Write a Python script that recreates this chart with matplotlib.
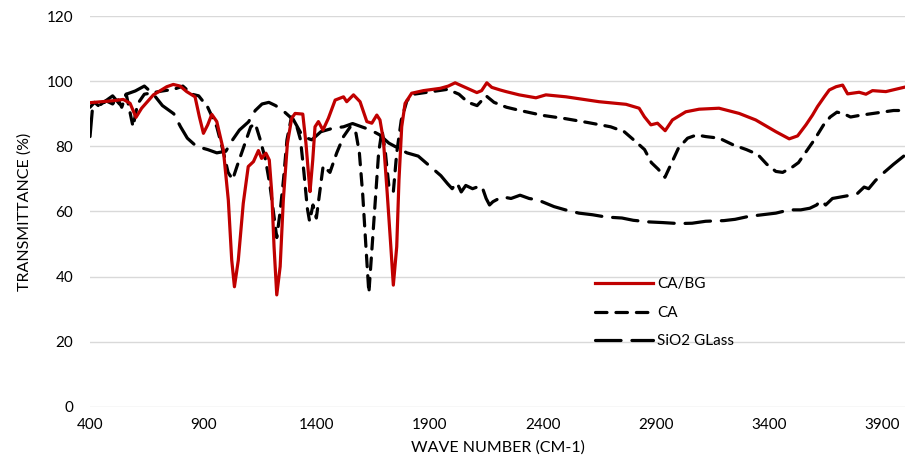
"""FTIR transmittance spectra: CA/BG vs CA vs SiO2 glass"""
import matplotlib
matplotlib.use('Agg')
import matplotlib.pyplot as plt

plt.rcParams['font.family'] = ['Lato', 'DejaVu Sans']

# CA/BG (solid red)
WN_CABG = [400, 502, 547, 577, 603, 628, 680, 739, 768, 798, 827, 864, 883, 901, 920, 938, 960,
           989, 1011, 1026, 1038, 1055, 1077, 1099, 1122, 1144, 1158, 1177, 1192, 1203, 1213, 1225,
           1240, 1254, 1272, 1291, 1306, 1340, 1354, 1365, 1372, 1384, 1394, 1409, 1429, 1453, 1483,
           1520, 1534, 1564, 1593, 1623, 1645, 1667, 1681, 1696, 1713, 1729, 1740, 1755, 1765, 1777,
           1792, 1821, 1873, 1947, 1983, 2013, 2035, 2109, 2130, 2153, 2175, 2212, 2238, 2296, 2370,
           2414, 2503, 2649, 2768, 2826, 2849, 2878, 2907, 2941, 2973, 3032, 3091, 3179, 3268, 3341,
           3430, 3489, 3526, 3563, 3592, 3614, 3644, 3666, 3696, 3725, 3747, 3798, 3828, 3857, 3916, 3995]
T_CABG = [93.4, 94.0, 94.4, 93.2, 88.9, 91.7, 95.8, 98.3, 99.0, 98.5, 96.8, 95.2, 89.1, 84.0, 86.6, 89.8, 87.6,
          78.9, 63.5, 45.1, 36.9, 45.0, 62.5, 73.8, 75.3, 78.7, 76.3, 77.9, 75.8, 65.6, 49.2, 34.4,
          43.1, 63.5, 80.9, 88.6, 90.1, 89.9, 80.9, 71.7, 66.1, 75.8, 86.0, 87.6, 85.0, 88.6, 94.2,
          95.2, 93.7, 95.8, 93.7, 87.6, 87.1, 89.6, 88.1, 82.0, 65.6, 49.2, 37.4, 49.2, 69.7, 86.0,
          93.2, 96.3, 97.1, 97.8, 98.5, 99.5, 98.8, 96.5, 97.1, 99.5, 98.1, 97.3, 96.8, 95.8, 94.9,
          95.8, 95.2, 93.7, 92.9, 91.7, 89.1, 86.6, 87.1, 84.8, 88.1, 90.6, 91.4, 91.7, 90.1, 88.1,
          84.5, 82.3, 83.2, 86.6, 89.6, 92.2, 95.2, 97.3, 98.3, 98.8, 96.1, 96.6, 96.0, 97.1, 96.8, 98.1]

# CA (short dash)
WN_CA = [400, 420, 445, 470, 500, 520, 540, 560, 590, 610, 640, 680, 720, 770, 810, 850, 880, 920,
         960, 990, 1010, 1030, 1050, 1080, 1110, 1130, 1150, 1175, 1195, 1210, 1225, 1240, 1255, 1270,
         1290, 1310, 1330, 1345, 1360, 1370, 1385, 1400, 1415, 1430, 1460, 1490, 1520, 1550, 1575,
         1590, 1605, 1620, 1632, 1645, 1660, 1675, 1690, 1705, 1720, 1740, 1755, 1775, 1800, 1830,
         1880, 1930, 1980, 2030, 2070, 2110, 2150, 2185, 2240, 2300, 2400, 2500, 2600, 2700, 2760,
         2810, 2850, 2880, 2910, 2940, 2970, 3000, 3040, 3080, 3120, 3180, 3240, 3300, 3350, 3390,
         3430, 3460, 3500, 3530, 3560, 3600, 3640, 3670, 3700, 3730, 3760, 3800, 3850, 3900, 3950, 3995]
T_CA = [92.0, 93.5, 92.0, 94.0, 93.0, 95.0, 92.0, 96.0, 86.0, 93.0, 96.0, 96.5, 97.0, 97.5, 98.5, 96.0, 95.5, 92.0,
        86.0, 78.0, 72.0, 69.8, 74.0, 80.0, 86.0, 87.0, 82.5, 76.0, 68.0, 60.0, 52.0, 60.0, 70.0, 82.0,
        89.0, 87.0, 82.0, 72.0, 61.0, 57.0, 62.0, 58.0, 66.0, 74.0, 72.0, 78.0, 83.0, 86.0, 84.0,
        78.0, 65.0, 48.0, 35.0, 48.0, 63.0, 78.0, 85.0, 78.0, 68.0, 66.0, 78.0, 88.0, 94.0, 96.0,
        96.5, 97.0, 97.5, 96.0, 93.5, 92.5, 95.5, 93.5, 92.0, 91.0, 89.5, 88.5, 87.3, 86.0, 84.5,
        81.5, 79.0, 75.0, 73.0, 70.5, 75.0, 79.5, 82.5, 83.5, 83.0, 82.5, 80.5, 79.0, 77.5, 74.5,
        72.3, 72.0, 73.5, 75.0, 78.0, 82.0, 86.5, 89.0, 90.5, 90.0, 89.0, 89.5, 90.0, 90.5, 91.0, 91.0]

# SiO2 glass (long dash)
WN_SIO2 = [400, 410, 440, 470, 500, 530, 560, 600, 640, 680, 720, 770, 800, 830, 870, 920, 960, 1000,
           1030, 1060, 1100, 1130, 1160, 1190, 1220, 1260, 1300, 1340, 1380, 1420, 1470, 1520, 1560,
           1600, 1640, 1680, 1720, 1760, 1800, 1850, 1900, 1950, 1980, 2000, 2020, 2040, 2060, 2090,
           2130, 2150, 2165, 2180, 2220, 2260, 2300, 2340, 2380, 2450, 2500, 2560, 2620, 2680, 2750,
           2800, 2870, 2930, 3000, 3060, 3120, 3200, 3250, 3310, 3370, 3430, 3490, 3540, 3580, 3610,
           3630, 3650, 3680, 3720, 3760, 3790, 3820, 3840, 3870, 3900, 3950, 3995]
T_SIO2 = [83.0, 91.0, 92.5, 94.0, 95.5, 93.0, 96.0, 97.0, 98.5, 96.0, 92.5, 90.0, 86.0, 82.5, 80.0, 79.0, 78.0, 78.5,
          82.0, 85.0, 87.5, 91.0, 93.0, 93.5, 92.5, 90.5, 88.0, 83.0, 82.0, 84.5, 85.5, 86.0, 87.0,
          86.0, 85.0, 83.5, 81.0, 79.5, 78.0, 77.0, 74.0, 71.0, 68.5, 67.0, 69.0, 66.0, 68.0, 67.0,
          68.0, 64.0, 62.0, 63.0, 64.5, 64.0, 65.0, 64.0, 63.5, 61.5, 60.5, 59.5, 59.0, 58.3, 58.0,
          57.3, 56.8, 56.6, 56.3, 56.4, 57.0, 57.2, 57.6, 58.5, 59.0, 59.5, 60.5, 60.5, 61.0, 62.0,
          63.5, 62.0, 64.0, 64.5, 65.0, 65.5, 67.5, 67.0, 69.5, 71.5, 74.5, 77.0]

X_TICKS = list(range(400, 4000, 500))
Y_TICKS = list(range(0, 121, 20))

FIG = plt.figure(figsize=(9.13, 4.74), dpi=100)
AX = FIG.add_axes([0.0986, 0.1414, 0.8925, 0.8248])

AX.plot(WN_CABG, T_CABG, color='#C00000', lw=2.3, label='CA/BG', zorder=3)
AX.plot(WN_CA, T_CA, color='black', lw=2.3, dashes=(3.6, 2.8), dash_capstyle='round', label='CA', zorder=2)
AX.plot(WN_SIO2, T_SIO2, color='black', lw=2.3, dashes=(8.0, 3.4), dash_capstyle='round',
        label='SiO2 GLass', zorder=2)

AX.set_xlim(400, 4000)
AX.set_ylim(0, 120)
AX.set_xticks(X_TICKS)
AX.set_yticks(Y_TICKS)
AX.grid(axis='y', color='#D9D9D9', lw=1)
AX.set_axisbelow(True)
for s in AX.spines.values():
    s.set_visible(False)
AX.tick_params(length=0, labelsize=11, colors='#000000', pad=8)
AX.tick_params(axis='y', pad=12)

AX.set_xlabel('WAVE NUMBER (CM-1)', fontsize=11.5, labelpad=6)
AX.set_ylabel('TRANSMITTANCE (%)', fontsize=11.5, labelpad=11)

AX.legend(loc='upper left', bbox_to_anchor=(0.612, 0.347), frameon=False, fontsize=11,
          handlelength=3.8, handletextpad=0.3, labelspacing=0.95, borderaxespad=0)

FIG.savefig('out.png', dpi=100)
